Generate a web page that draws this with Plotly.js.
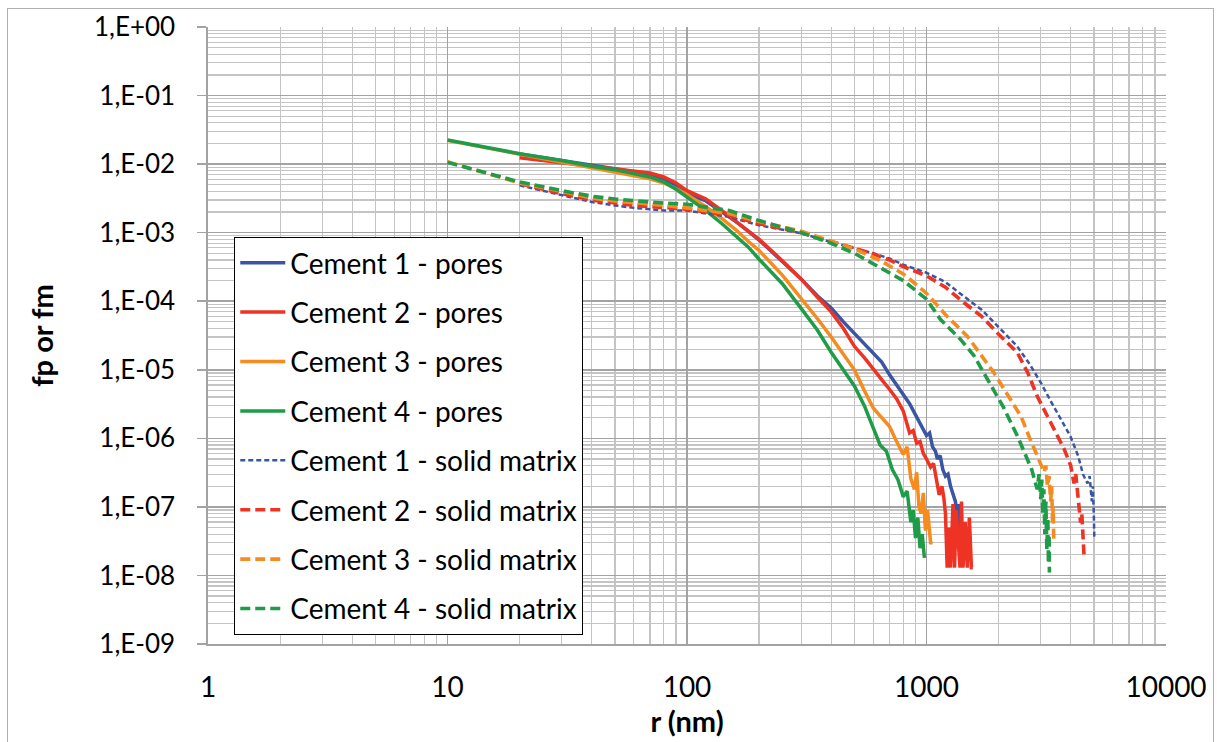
<!DOCTYPE html>
<html>
<head>
<meta charset="utf-8">
<script src="https://cdn.plot.ly/plotly-3.0.1.min.js"></script>
<style>
  html, body { margin: 0; padding: 0; background: #fff; }
  #wrap { position: relative; width: 1217px; height: 742px; }
  #chart { width: 1217px; height: 742px; }
  #frame { position: absolute; left: 7px; top: 8px; width: 1207px; height: 760px;
           border: 1px solid #b0b0b0; pointer-events: none; box-sizing: border-box; }
</style>
</head>
<body>
<div id="wrap"><div id="chart"></div><div id="frame"></div></div>
<script>
// ---------------- DATA ----------------
const seriesNames = [
  "Cement 1 - pores", "Cement 2 - pores", "Cement 3 - pores", "Cement 4 - pores",
  "Cement 1 - solid matrix", "Cement 2 - solid matrix", "Cement 3 - solid matrix", "Cement 4 - solid matrix"
];

// Cement 1 - pores
const r_c1_pores = [20,30,40,50,60,70,80,90,100,120,140,160,180,200,250,300,350,400,450,500,550,600,650,700,750,800,850,900,950,1000,1030,1060,1090,1110,1140,1170,1200,1230,1260,1290,1320,1340,1360,1380,1400,1420];
const f_c1_pores = [0.0140,0.0113,0.0095,0.0086,0.0078,0.0071,0.0061,0.0049,0.0037,0.0029,0.0020,0.00145,0.00105,7.8e-4,3.8e-4,2.1e-4,1.2e-4,8.0e-5,5.0e-5,3.4e-5,2.4e-5,1.8e-5,1.3e-5,8.5e-6,6.0e-6,4.5e-6,3.2e-6,2.2e-6,1.5e-6,1.1e-6,1.2e-6,7.5e-7,6.5e-7,5.0e-7,5.6e-7,3.5e-7,2.8e-7,3.0e-7,2.0e-7,1.6e-7,1.2e-7,8e-8,1.1e-7,5e-8,6e-8,1.4e-8];

// Cement 2 - pores
const r_c2_pores = [20,30,40,50,60,70,80,90,100,120,140,160,180,200,250,300,350,400,450,500,550,600,650,700,750,800,850,880,910,940,970,1000,1040,1070,1100,1130,1160,1180,1200,1220,1240,1260,1290,1310,1330,1360,1380,1400,1420,1450,1480,1510,1540,1560];
const f_c2_pores = [0.0124,0.0105,0.0093,0.0086,0.0080,0.0074,0.0065,0.0053,0.0041,0.0031,0.0021,0.00148,0.00108,8.0e-4,3.9e-4,2.1e-4,1.15e-4,7.0e-5,4.0e-5,2.2e-5,1.5e-5,1.0e-5,7.2e-6,5.2e-6,3.8e-6,2.5e-6,1.2e-6,1.3e-6,8.5e-7,9.0e-7,6.0e-7,5.0e-7,3.8e-7,4.3e-7,2.5e-7,1.5e-7,2.0e-7,1.4e-7,8e-8,1.3e-8,5e-8,1.3e-8,1.1e-7,1.3e-8,9e-8,2.6e-8,1.3e-8,1.2e-7,1.3e-8,6e-8,1.3e-8,7e-8,1.3e-8,1.3e-8];

// Cement 3 - pores
const r_c3_pores = [10,20,30,40,50,60,70,80,90,100,120,140,160,180,200,250,300,350,400,450,500,550,600,650,700,750,800,830,860,890,910,930,950,970,990,1010,1040,1060];
const f_c3_pores = [0.0222,0.0140,0.0108,0.0088,0.0078,0.0069,0.0061,0.0053,0.0044,0.0036,0.0024,0.0016,0.0011,7.5e-4,5.5e-4,2.4e-4,1.1e-4,5.6e-5,3.0e-5,1.65e-5,1.0e-5,5.0e-6,2.75e-6,2.0e-6,1.5e-6,9e-7,5.8e-7,7.5e-7,2.6e-7,1.8e-7,3.2e-7,1.0e-7,8e-8,1.6e-7,4.5e-8,9e-8,3e-8,3e-8];

// Cement 4 - pores
const r_c4_pores = [10,20,30,40,50,60,70,80,90,100,120,140,160,180,200,250,300,350,400,450,500,550,600,640,680,720,760,800,830,860,880,900,920,940,960,980];
const f_c4_pores = [0.0225,0.0142,0.0113,0.0093,0.0083,0.0073,0.0065,0.0055,0.0043,0.0033,0.0021,0.00135,8.9e-4,6.2e-4,4.1e-4,1.8e-4,7.8e-5,3.8e-5,1.8e-5,1.0e-5,5.8e-6,3.0e-6,1.35e-6,8e-7,6.5e-7,3.5e-7,2.5e-7,1.4e-7,1.7e-7,6e-8,9e-8,3.5e-8,7e-8,2.5e-8,4e-8,1.8e-8];

// Cement 1 - solid matrix
const r_c1_matrix = [20,30,40,50,60,70,80,100,150,200,300,400,500,600,700,800,1000,1200,1435,1700,2000,2390,2700,3000,3300,3600,3990,4300,4500,4700,4800,4900,4950,5000,5020];
const f_c1_matrix = [0.0049,0.0035,0.0028,0.0025,0.0023,0.0022,0.0021,0.0021,0.0017,0.00128,9.8e-4,7.3e-4,6.0e-4,5.0e-4,4.2e-4,3.4e-4,2.6e-4,1.9e-4,1.17e-4,7.5e-5,4.2e-5,2.2e-5,1.2e-5,6.5e-6,3.5e-6,2.0e-6,1.07e-6,5.5e-7,3.0e-7,2.2e-7,2.8e-7,1.2e-7,2.0e-7,7e-8,3.5e-8];

// Cement 2 - solid matrix
const r_c2_matrix = [20,30,40,50,60,70,80,100,150,200,300,400,500,600,700,800,1000,1200,1435,1700,2000,2390,2650,2900,3300,3760,4000,4130,4200,4300,4400,4450,4500,4550];
const f_c2_matrix = [0.0052,0.0037,0.0030,0.0027,0.0025,0.0024,0.0023,0.0022,0.0018,0.00135,1.0e-3,7.4e-4,6.0e-4,4.9e-4,4.0e-4,3.2e-4,2.35e-4,1.6e-4,9.5e-5,6.0e-5,3.3e-5,1.8e-5,9.0e-6,4.1e-6,1.7e-6,6.9e-7,4.0e-7,2.2e-7,3.0e-7,1.3e-7,5.9e-8,8e-8,3e-8,1.9e-8];

// Cement 3 - solid matrix
const r_c3_matrix = [10,20,30,40,50,60,70,80,100,150,200,300,400,500,643,800,887,1000,1100,1220,1480,1690,1910,2200,2480,2700,2900,3100,3150,3200,3250,3300,3330,3360,3380,3400];
const f_c3_matrix = [0.0108,0.0053,0.0040,0.0032,0.0029,0.0027,0.0026,0.0025,0.0023,0.0019,0.00145,1.05e-3,7.6e-4,5.8e-4,3.9e-4,2.5e-4,1.86e-4,1.3e-4,9.0e-5,6.0e-5,3.1e-5,1.6e-5,9.1e-6,4.1e-6,2.1e-6,1.0e-6,5.5e-7,3.2e-7,4.0e-7,2.0e-7,2.8e-7,1.2e-7,2.0e-7,6e-8,1.0e-7,3e-8];

// Cement 4 - solid matrix
const r_c4_matrix = [10,20,30,40,50,60,70,80,100,150,200,300,400,500,643,800,887,1000,1145,1390,1580,1910,2100,2400,2600,2750,2900,2950,3000,3030,3060,3090,3120,3150,3180,3210,3230,3250,3260];
const f_c4_matrix = [0.0106,0.0055,0.0041,0.0034,0.0031,0.0029,0.0028,0.0027,0.0026,0.0021,0.0015,1.0e-3,7.0e-4,5.0e-4,3.1e-4,2.0e-4,1.5e-4,1.07e-4,5.4e-5,2.75e-5,1.6e-5,5.1e-6,2.8e-6,1.07e-6,5.5e-7,3.5e-7,1.8e-7,3.0e-7,1.3e-7,2.5e-7,8e-8,1.8e-7,4e-8,1.2e-7,2.4e-8,7e-8,1.5e-8,4e-8,1.1e-8];

// Tick labels
const xTickVals = [1, 10, 100, 1000, 10000];
const xTickText = ["1", "10", "100", "1000", "10000"];
const yTickVals = [1, 1e-1, 1e-2, 1e-3, 1e-4, 1e-5, 1e-6, 1e-7, 1e-8, 1e-9];
const yTickText = ["1,E+00", "1,E-01", "1,E-02", "1,E-03", "1,E-04", "1,E-05", "1,E-06", "1,E-07", "1,E-08", "1,E-09"];

// ---------------- STYLE ----------------
const BLUE = "#3b55a5", RED = "#ee3324", ORANGE = "#f68b1f", GREEN = "#1e9c48";
const FONT = "Lato, 'Open Sans', 'DejaVu Sans', sans-serif";

function minorVals(lo, hi) {
  const out = [];
  for (let d = lo; d < hi; d++) {
    for (let k = 2; k <= 9; k++) out.push(k * Math.pow(10, d));
  }
  return out;
}

const xs = [r_c1_pores, r_c2_pores, r_c3_pores, r_c4_pores, r_c1_matrix, r_c2_matrix, r_c3_matrix, r_c4_matrix];
const ys = [f_c1_pores, f_c2_pores, f_c3_pores, f_c4_pores, f_c1_matrix, f_c2_matrix, f_c3_matrix, f_c4_matrix];
const lineStyles = [
  {color: BLUE, width: 3.5, dash: "solid"},
  {color: RED, width: 3.5, dash: "solid"},
  {color: ORANGE, width: 3.5, dash: "solid"},
  {color: GREEN, width: 3.5, dash: "solid"},
  {color: BLUE, width: 2.5, dash: "5px,3px"},
  {color: RED, width: 3.6, dash: "10px,5px"},
  {color: ORANGE, width: 3.6, dash: "10px,5px"},
  {color: GREEN, width: 3.6, dash: "10px,5px"}
];

const traces = seriesNames.map((name, i) => ({
  type: "scatter",
  mode: "lines",
  name: name,
  x: xs[i],
  y: ys[i],
  line: lineStyles[i],
  legendgroup: "g" + i
}));

const layout = {
  width: 1217,
  height: 742,
  margin: {l: 208, r: 51, t: 27, b: 98},
  paper_bgcolor: "#ffffff",
  plot_bgcolor: "#ffffff",
  font: {family: FONT, color: "#000", size: 26},
  showlegend: true,
  legend: {
    x: 0.0272, y: 0.660, xanchor: "left", yanchor: "top",
    bgcolor: "#ffffff", bordercolor: "#000000", borderwidth: 1.2,
    font: {family: FONT, size: 28, color: "#000"},
    traceorder: "grouped",
    tracegroupgap: 10,
    itemwidth: 45
  },
  xaxis: {
    type: "log",
    range: [0, 4],
    tickmode: "array",
    tickvals: xTickVals,
    ticktext: xTickText,
    ticks: "",
    ticklabelstandoff: 18,
    tickfont: {family: FONT, size: 28, color: "#000"},
    showgrid: true,
    gridcolor: "#a3a3a3",
    gridwidth: 1.6,
    showline: true,
    linecolor: "#a3a3a3",
    linewidth: 1.6,
    zeroline: false,
    minor: {tickmode: "array", tickvals: minorVals(0, 4), showgrid: true, gridcolor: "#c4c4c4", gridwidth: 1.2, ticks: ""},
    title: {text: "<b>r (nm)</b>", font: {family: FONT, size: 29, color: "#000"}, standoff: 2}
  },
  yaxis: {
    type: "log",
    range: [-9, 0],
    tickmode: "array",
    tickvals: yTickVals,
    ticktext: yTickText,
    ticks: "outside",
    ticklen: 9,
    tickwidth: 1.5,
    tickcolor: "#a3a3a3",
    ticklabelstandoff: 17,
    tickfont: {family: FONT, size: 26, color: "#000"},
    showgrid: true,
    gridcolor: "#a3a3a3",
    gridwidth: 1.6,
    showline: true,
    linecolor: "#a3a3a3",
    linewidth: 1.6,
    zeroline: false,
    minor: {tickmode: "array", tickvals: minorVals(-9, 0), showgrid: true, gridcolor: "#c4c4c4", gridwidth: 1.2, ticks: ""},
    title: {text: "<b>fp or fm</b>", font: {family: FONT, size: 29, color: "#000"}, standoff: 32}
  }
};

Plotly.newPlot("chart", traces, layout, {staticPlot: true, displayModeBar: false});
</script>
</body>
</html>
